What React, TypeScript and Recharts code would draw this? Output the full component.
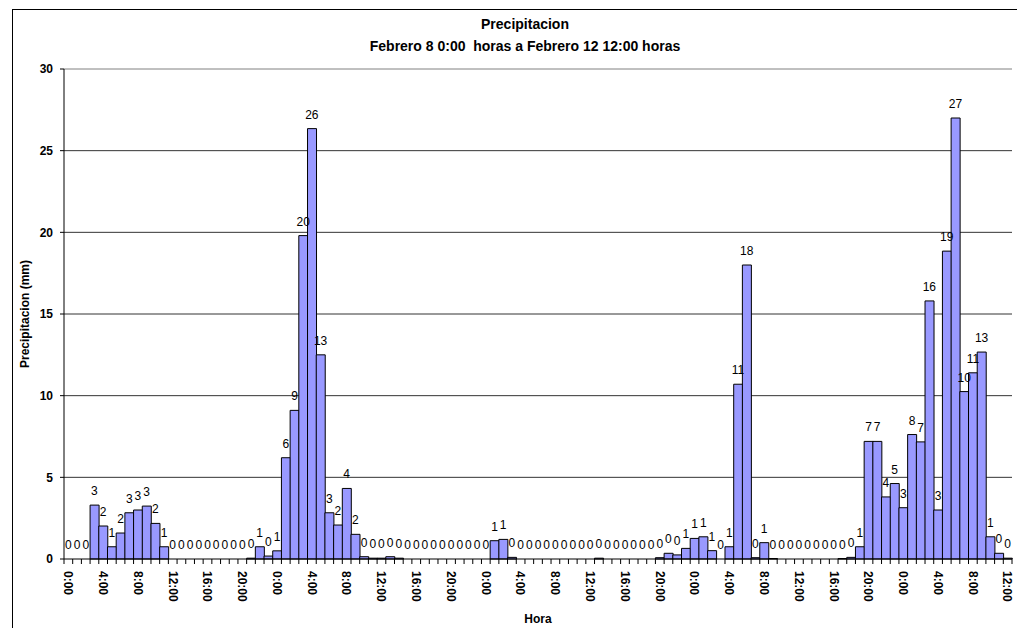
import React from 'react';
import {
    ComposedChart,
    Bar,
    Line,
    XAxis,
    YAxis,
    CartesianGrid,
    ReferenceLine,
    LabelList,
    Label,
} from 'recharts';

// Precipitacion horaria (mm), un arreglo por dia, de 0:00 a 23:00
const DIA_8 = [0, 0, 0, 3.3, 2.02, 0.75, 1.59, 2.83, 3.0, 3.24, 2.18, 0.75, 0, 0, 0, 0, 0, 0, 0, 0, 0, 0.05, 0.75, 0.18];
const DIA_9 = [0.5, 6.2, 9.1, 19.8, 26.35, 12.5, 2.83, 2.08, 4.32, 1.51, 0.14, 0.05, 0.05, 0.14, 0.05, 0, 0, 0, 0, 0, 0, 0, 0, 0];
const DIA_10 = [0, 1.12, 1.2, 0.1, 0, 0, 0, 0, 0, 0, 0, 0, 0, 0.05, 0, 0, 0, 0, 0, 0, 0.08, 0.35, 0.25, 0.65];
const DIA_11 = [1.26, 1.36, 0.51, 0, 0.75, 10.7, 18.0, 0.08, 1.0, 0.03, 0, 0, 0, 0, 0, 0, 0, 0.03, 0.1, 0.75, 7.2, 7.2, 3.8, 4.62];
// el dia 12 termina a las 12:00
const DIA_12 = [3.14, 7.62, 7.17, 15.8, 3.0, 18.85, 27.0, 10.25, 11.4, 12.67, 1.36, 0.35, 0.05];

const Y_TICKS = [0, 5, 10, 15, 20, 25, 30];
const GRID_Y = [5, 10, 15, 20, 25];

const lluvia = [...DIA_8, ...DIA_9, ...DIA_10, ...DIA_11, ...DIA_12];
const data = lluvia.map((mm, i) => ({ hora: `${i % 24}:00`, mm }));

const FONT = "'Liberation Sans', Arial, sans-serif";
const W = 1017;
const H = 628;
const PLOT_LEFT = 64;
const PLOT_RIGHT = 1012;
const BW = (PLOT_RIGHT - PLOT_LEFT) / data.length;

// marcas entre categorias y etiqueta cada 4 horas, girada
const HoraTick = (props: any) => {
    const { x, y, payload } = props;
    const i = props.index ?? payload.index;
    const ty = y + 12;
    return (
        <g>
            <line x1={x - BW / 2} x2={x - BW / 2} y1={y} y2={y + 5} stroke="#000" />
            {i === data.length - 1 && (
                <line x1={x + BW / 2} x2={x + BW / 2} y1={y} y2={y + 5} stroke="#000" />
            )}
            {i % 4 === 0 && (
                <text
                    x={x}
                    y={ty}
                    dy="0.35em"
                    transform={`rotate(90, ${x}, ${ty})`}
                    textAnchor="start"
                    fontFamily={FONT}
                    fontWeight="bold"
                    fontSize={12}
                    fill="#000"
                >
                    {payload.value}
                </text>
            )}
        </g>
    );
};

// valor redondeado sobre cada barra, tambien en las horas sin lluvia
const ValorLabel = (p: any) => {
    const vb = p.viewBox || p;
    const x = vb.x + (vb.width || 0) / 2;
    const y = vb.y;
    if (x == null || y == null || isNaN(x) || isNaN(y)) return null;
    return (
        <text x={x} y={y - 10} textAnchor="middle" fontFamily={FONT} fontSize={12} fill="#000">
            {Math.round(Number(p.value))}
        </text>
    );
};

const App: React.FC = () => {
    return (
        <div style={{ position: 'absolute', left: 0, top: 0, width: W, height: H, background: '#fff', fontFamily: FONT }}>
            <div
                style={{
                    position: 'absolute',
                    left: 12,
                    top: 9,
                    width: W,
                    height: H,
                    border: '1.5px solid #000',
                    boxSizing: 'border-box',
                }}
            />
            <div style={{ position: 'absolute', left: 0, width: 1050, top: 13, textAlign: 'center', fontWeight: 'bold', fontSize: 14, lineHeight: '22px', color: '#000' }}>
                <div>Precipitacion</div>
                <div style={{ whiteSpace: 'pre' }}>Febrero 8 0:00  horas a Febrero 12 12:00 horas</div>
            </div>
            <div style={{ position: 'absolute', left: 0, top: 0 }}>
                <ComposedChart
                    width={W}
                    height={H}
                    data={data}
                    barCategoryGap={0}
                    barGap={0}
                    margin={{ top: 69, right: 5, bottom: 0, left: 0 }}
                >
                    <CartesianGrid vertical={false} horizontalValues={GRID_Y} stroke="#333" />
                    <XAxis
                        dataKey="hora"
                        interval={0}
                        height={69}
                        tickSize={0}
                        tickMargin={0}
                        tickLine={false}
                        axisLine={{ stroke: '#000' }}
                        tick={<HoraTick />}
                    >
                        <Label value="Hora" position="insideBottom" offset={5} fontFamily={FONT} fontWeight="bold" fontSize={12} fill="#000" />
                    </XAxis>
                    <YAxis
                        width={PLOT_LEFT}
                        domain={[0, 30]}
                        ticks={Y_TICKS}
                        interval={0}
                        tickSize={4}
                        tickMargin={7}
                        axisLine={{ stroke: '#000' }}
                        tickLine={{ stroke: '#000' }}
                        tick={{ fontFamily: FONT, fontWeight: 'bold', fontSize: 12, fill: '#000' }}
                    >
                        <Label
                            value="Precipitacion (mm)"
                            angle={-90}
                            position="insideLeft"
                            offset={25}
                            style={{ textAnchor: 'middle' }}
                            fontFamily={FONT}
                            fontWeight="bold"
                            fontSize={12}
                            fill="#000"
                        />
                    </YAxis>
                    <YAxis yAxisId="der" orientation="right" width={0} tick={false} tickLine={false} axisLine={{ stroke: '#808080' }} />
                    <ReferenceLine y={30} stroke="#808080" />
                    <Bar dataKey="mm" fill="#9999FF" stroke="#000" strokeWidth={1} isAnimationActive={false} />
                    {/* serie invisible que solo lleva las etiquetas de valor */}
                    <Line
                        dataKey="mm"
                        stroke="none"
                        dot={false}
                        activeDot={false}
                        legendType="none"
                        isAnimationActive={false}
                    >
                        <LabelList dataKey="mm" content={<ValorLabel />} />
                    </Line>
                </ComposedChart>
            </div>
        </div>
    );
};

export default App;
